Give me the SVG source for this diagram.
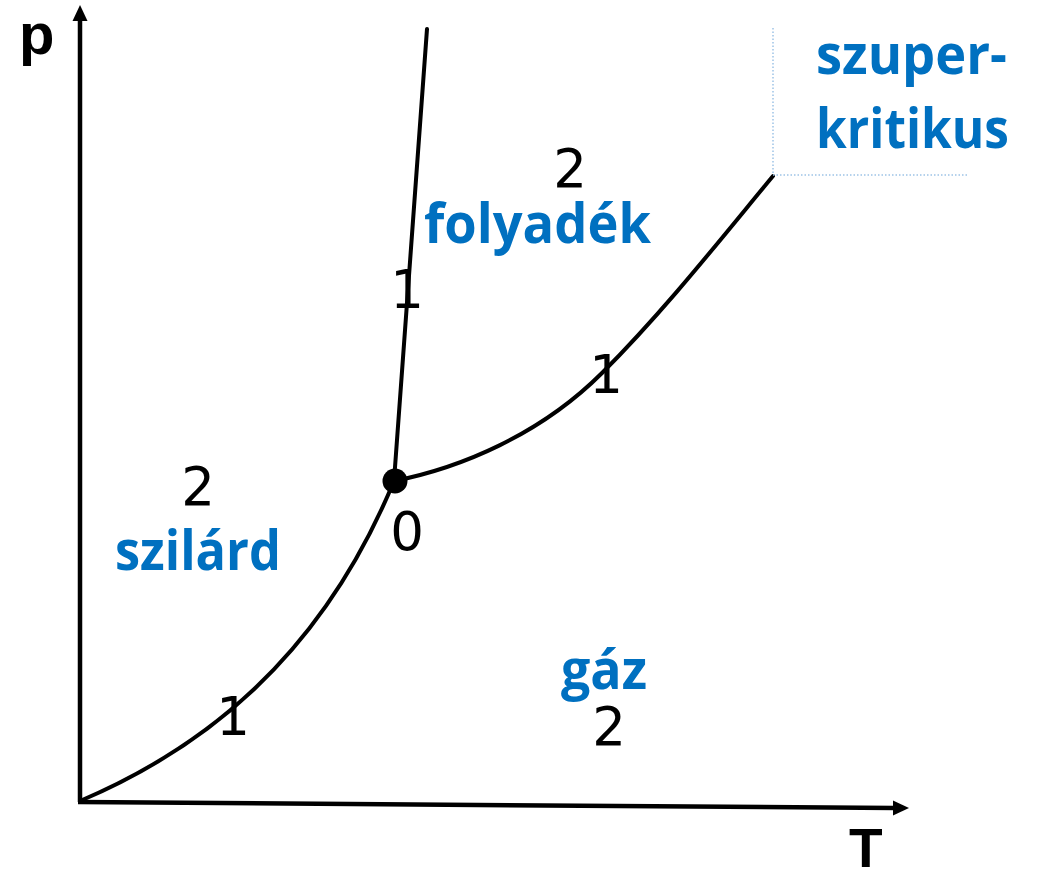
<svg xmlns="http://www.w3.org/2000/svg" width="1041" height="872" viewBox="0 0 1041 872">
<defs>
<style>
.axis{stroke:#000;stroke-width:4.5;fill:none}
.curve{stroke:#000;stroke-width:4;fill:none;stroke-linecap:round}
.phase{font-family:"Open Sans","Lato",sans-serif;font-weight:700;font-size:55px;fill:#0070C0}
.num{font-family:"DejaVu Sans",sans-serif;font-size:53px;fill:#000;text-anchor:middle}
.ax{font-family:"Liberation Sans",Arial,sans-serif;font-weight:700;fill:#000}
.dot{stroke:#9DC3E6;stroke-width:1.5;stroke-dasharray:1.5 2;fill:none}
</style>
</defs>
<rect width="1041" height="872" fill="#fff"/>
<g id="axes">
<line class="axis" x1="80" y1="802" x2="80" y2="18"/>
<polygon points="80,5 72.5,21 87.5,21" fill="#000"/>
<line class="axis" x1="78" y1="802" x2="895" y2="808"/>
<polygon points="909,808 893,800.5 893,815.5" fill="#000"/>
<text id="label-p" class="ax" x="19" y="54" font-size="58">p</text>
<text id="label-T" class="ax" x="849" y="867" font-size="55">T</text>
</g>
<g id="connectors">
<path class="curve" d="M80,801 C200,750 320,660 394,481"/>
<path class="curve" d="M394,481 L427,29"/>
<path class="curve" d="M394,481 C460,468 540,435 602,373 S720,240 773,176"/>
<path class="dot" d="M773,28 L773,175 L967,175"/>
</g>
<g id="triple-point">
<circle cx="395" cy="481" r="12.5" fill="#000"/>
<text class="num" x="407" y="550">0</text>
</g>
<g id="szilard">
<text class="num" x="198" y="505">2</text>
<text class="phase" x="115" y="570" textLength="166" lengthAdjust="spacingAndGlyphs">szilárd</text>
</g>
<g id="folyadek">
<text class="num" x="570" y="187">2</text>
<text class="phase" x="424" y="243" textLength="227" lengthAdjust="spacingAndGlyphs">folyadék</text>
</g>
<g id="gaz">
<text class="phase" x="561" y="689" textLength="86" lengthAdjust="spacingAndGlyphs">gáz</text>
<text class="num" x="609" y="745">2</text>
</g>
<g id="szuperkritikus">
<text class="phase" x="816" y="74" textLength="191" lengthAdjust="spacingAndGlyphs">szuper-</text>
<text class="phase" x="816" y="148" textLength="193" lengthAdjust="spacingAndGlyphs">kritikus</text>
</g>
<g id="line-labels">
<text class="num" x="407" y="308">1</text>
<text class="num" x="606" y="393">1</text>
<text class="num" x="233" y="735">1</text>
</g>
</svg>
